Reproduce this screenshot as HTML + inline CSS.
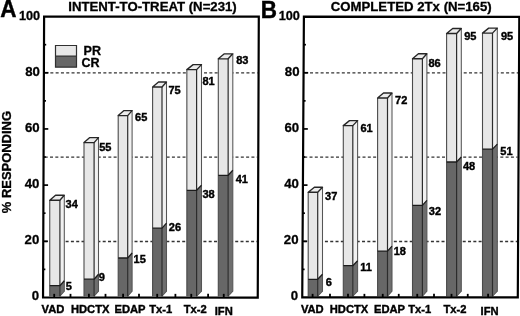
<!DOCTYPE html>
<html><head><meta charset="utf-8"><title>chart</title>
<style>html,body{margin:0;padding:0;background:#fff;overflow:hidden}svg{display:block;will-change:transform;filter:grayscale(1)}text{fill:#000}</style>
</head><body>
<svg width="520" height="316" viewBox="0 0 520 316">
<rect width="520" height="316" fill="#fff"/>
<g>
<line x1="44.41" x2="256.96" y1="241.48" y2="241.48" stroke="#333" stroke-width="1.3" stroke-dasharray="3.0,2.3"/>
<line x1="44.72" x2="257.27" y1="157.22" y2="157.22" stroke="#333" stroke-width="1.3" stroke-dasharray="3.0,2.3"/>
<line x1="45.04" x2="257.59" y1="72.97" y2="72.97" stroke="#333" stroke-width="1.3" stroke-dasharray="3.0,2.3"/>
<rect x="49.75" y="200.20" width="10.15" height="85.50" fill="#e7e7e7"/>
<rect x="49.75" y="285.70" width="10.15" height="10.55" fill="#676767"/>
<polygon points="59.90,200.20 64.30,195.20 64.30,280.70 59.90,285.70" fill="#f1f1f1"/>
<polygon points="59.90,285.70 64.30,280.70 64.30,291.25 59.90,296.25" fill="#6e6e6e"/>
<polygon points="49.75,200.20 55.55,195.20 64.30,195.20 59.90,200.20" fill="#ececec"/>
<path d="M49.75,296.25 V200.20" fill="none" stroke="#4a4a4a" stroke-width="1.1"/>
<path d="M64.30,195.20 V291.25 L59.90,296.25" fill="none" stroke="#555" stroke-width="1.05" stroke-linejoin="round"/>
<path d="M59.90,200.20 V296.25" fill="none" stroke="#2c2c2c" stroke-width="1.2"/>
<path d="M49.75,200.20 H59.90 L64.30,195.20 H55.55 Z" fill="none" stroke="#262626" stroke-width="1.35" stroke-linejoin="round"/>
<path d="M49.75,285.70 H59.90 L64.30,280.70" fill="none" stroke="#1c1c1c" stroke-width="1.3" stroke-linejoin="round"/>
<rect x="84.00" y="142.60" width="10.10" height="136.60" fill="#e7e7e7"/>
<rect x="84.00" y="279.20" width="10.10" height="17.05" fill="#676767"/>
<polygon points="94.10,142.60 98.50,137.60 98.50,274.20 94.10,279.20" fill="#f1f1f1"/>
<polygon points="94.10,279.20 98.50,274.20 98.50,291.25 94.10,296.25" fill="#6e6e6e"/>
<polygon points="84.00,142.60 89.80,137.60 98.50,137.60 94.10,142.60" fill="#ececec"/>
<path d="M84.00,296.25 V142.60" fill="none" stroke="#4a4a4a" stroke-width="1.1"/>
<path d="M98.50,137.60 V291.25 L94.10,296.25" fill="none" stroke="#555" stroke-width="1.05" stroke-linejoin="round"/>
<path d="M94.10,142.60 V296.25" fill="none" stroke="#2c2c2c" stroke-width="1.2"/>
<path d="M84.00,142.60 H94.10 L98.50,137.60 H89.80 Z" fill="none" stroke="#262626" stroke-width="1.35" stroke-linejoin="round"/>
<path d="M84.00,279.20 H94.10 L98.50,274.20" fill="none" stroke="#1c1c1c" stroke-width="1.3" stroke-linejoin="round"/>
<rect x="118.20" y="115.60" width="9.50" height="142.40" fill="#e7e7e7"/>
<rect x="118.20" y="258.00" width="9.50" height="38.25" fill="#676767"/>
<polygon points="127.70,115.60 132.10,110.60 132.10,253.00 127.70,258.00" fill="#f1f1f1"/>
<polygon points="127.70,258.00 132.10,253.00 132.10,291.25 127.70,296.25" fill="#6e6e6e"/>
<polygon points="118.20,115.60 124.00,110.60 132.10,110.60 127.70,115.60" fill="#ececec"/>
<path d="M118.20,296.25 V115.60" fill="none" stroke="#4a4a4a" stroke-width="1.1"/>
<path d="M132.10,110.60 V291.25 L127.70,296.25" fill="none" stroke="#555" stroke-width="1.05" stroke-linejoin="round"/>
<path d="M127.70,115.60 V296.25" fill="none" stroke="#2c2c2c" stroke-width="1.2"/>
<path d="M118.20,115.60 H127.70 L132.10,110.60 H124.00 Z" fill="none" stroke="#262626" stroke-width="1.35" stroke-linejoin="round"/>
<path d="M118.20,258.00 H127.70 L132.10,253.00" fill="none" stroke="#1c1c1c" stroke-width="1.3" stroke-linejoin="round"/>
<rect x="152.60" y="87.00" width="9.40" height="141.10" fill="#e7e7e7"/>
<rect x="152.60" y="228.10" width="9.40" height="68.15" fill="#676767"/>
<polygon points="162.00,87.00 166.50,82.00 166.50,223.10 162.00,228.10" fill="#f1f1f1"/>
<polygon points="162.00,228.10 166.50,223.10 166.50,291.25 162.00,296.25" fill="#6e6e6e"/>
<polygon points="152.60,87.00 158.50,82.00 166.50,82.00 162.00,87.00" fill="#ececec"/>
<path d="M152.60,296.25 V87.00" fill="none" stroke="#4a4a4a" stroke-width="1.1"/>
<path d="M166.50,82.00 V291.25 L162.00,296.25" fill="none" stroke="#555" stroke-width="1.05" stroke-linejoin="round"/>
<path d="M162.00,87.00 V296.25" fill="none" stroke="#2c2c2c" stroke-width="1.2"/>
<path d="M152.60,87.00 H162.00 L166.50,82.00 H158.50 Z" fill="none" stroke="#262626" stroke-width="1.35" stroke-linejoin="round"/>
<path d="M152.60,228.10 H162.00 L166.50,223.10" fill="none" stroke="#1c1c1c" stroke-width="1.3" stroke-linejoin="round"/>
<rect x="186.85" y="69.60" width="9.75" height="120.70" fill="#e7e7e7"/>
<rect x="186.85" y="190.30" width="9.75" height="105.95" fill="#676767"/>
<polygon points="196.60,69.60 201.50,64.60 201.50,185.30 196.60,190.30" fill="#f1f1f1"/>
<polygon points="196.60,190.30 201.50,185.30 201.50,291.25 196.60,296.25" fill="#6e6e6e"/>
<polygon points="186.85,69.60 193.15,64.60 201.50,64.60 196.60,69.60" fill="#ececec"/>
<path d="M186.85,296.25 V69.60" fill="none" stroke="#4a4a4a" stroke-width="1.1"/>
<path d="M201.50,64.60 V291.25 L196.60,296.25" fill="none" stroke="#555" stroke-width="1.05" stroke-linejoin="round"/>
<path d="M196.60,69.60 V296.25" fill="none" stroke="#2c2c2c" stroke-width="1.2"/>
<path d="M186.85,69.60 H196.60 L201.50,64.60 H193.15 Z" fill="none" stroke="#262626" stroke-width="1.35" stroke-linejoin="round"/>
<path d="M186.85,190.30 H196.60 L201.50,185.30" fill="none" stroke="#1c1c1c" stroke-width="1.3" stroke-linejoin="round"/>
<rect x="218.30" y="58.80" width="9.85" height="116.50" fill="#e7e7e7"/>
<rect x="218.30" y="175.30" width="9.85" height="120.95" fill="#676767"/>
<polygon points="228.15,58.80 232.80,53.80 232.80,170.30 228.15,175.30" fill="#f1f1f1"/>
<polygon points="228.15,175.30 232.80,170.30 232.80,291.25 228.15,296.25" fill="#6e6e6e"/>
<polygon points="218.30,58.80 224.35,53.80 232.80,53.80 228.15,58.80" fill="#ececec"/>
<path d="M218.30,296.25 V58.80" fill="none" stroke="#4a4a4a" stroke-width="1.1"/>
<path d="M232.80,53.80 V291.25 L228.15,296.25" fill="none" stroke="#555" stroke-width="1.05" stroke-linejoin="round"/>
<path d="M228.15,58.80 V296.25" fill="none" stroke="#2c2c2c" stroke-width="1.2"/>
<path d="M218.30,58.80 H228.15 L232.80,53.80 H224.35 Z" fill="none" stroke="#262626" stroke-width="1.35" stroke-linejoin="round"/>
<path d="M218.30,175.30 H228.15 L232.80,170.30" fill="none" stroke="#1c1c1c" stroke-width="1.3" stroke-linejoin="round"/>
<polygon points="44.1,16.6 258.8,16.65 257.75,297.6 43.05,297.45" fill="none" stroke="#000" stroke-width="2.2" stroke-linejoin="miter"/>
<line x1="43.15" x2="45.35" y1="269.37" y2="269.37" stroke="#000" stroke-width="1.7"/>
<line x1="43.26" x2="47.86" y1="241.28" y2="241.28" stroke="#000" stroke-width="1.7"/>
<line x1="43.36" x2="45.56" y1="213.19" y2="213.19" stroke="#000" stroke-width="1.7"/>
<line x1="43.47" x2="48.07" y1="185.11" y2="185.11" stroke="#000" stroke-width="1.7"/>
<line x1="43.57" x2="45.77" y1="157.03" y2="157.03" stroke="#000" stroke-width="1.7"/>
<line x1="43.68" x2="48.28" y1="128.94" y2="128.94" stroke="#000" stroke-width="1.7"/>
<line x1="43.78" x2="45.98" y1="100.86" y2="100.86" stroke="#000" stroke-width="1.7"/>
<line x1="43.89" x2="48.49" y1="72.77" y2="72.77" stroke="#000" stroke-width="1.7"/>
<line x1="43.99" x2="46.20" y1="44.69" y2="44.69" stroke="#000" stroke-width="1.7"/>
<line x1="54.20" x2="54.20" y1="297.45" y2="293.84999999999997" stroke="#000" stroke-width="1.8"/>
<line x1="70.50" x2="70.50" y1="297.45" y2="293.84999999999997" stroke="#000" stroke-width="1.8"/>
<line x1="88.90" x2="88.90" y1="297.45" y2="293.84999999999997" stroke="#000" stroke-width="1.8"/>
<line x1="105.50" x2="105.50" y1="297.45" y2="293.84999999999997" stroke="#000" stroke-width="1.8"/>
<line x1="123.10" x2="123.10" y1="297.45" y2="293.84999999999997" stroke="#000" stroke-width="1.8"/>
<line x1="139.00" x2="139.00" y1="297.45" y2="293.84999999999997" stroke="#000" stroke-width="1.8"/>
<line x1="157.20" x2="157.20" y1="297.45" y2="293.84999999999997" stroke="#000" stroke-width="1.8"/>
<line x1="175.40" x2="175.40" y1="297.45" y2="293.84999999999997" stroke="#000" stroke-width="1.8"/>
<line x1="191.25" x2="191.25" y1="297.45" y2="293.84999999999997" stroke="#000" stroke-width="1.8"/>
<line x1="208.10" x2="208.10" y1="297.45" y2="293.84999999999997" stroke="#000" stroke-width="1.8"/>
<line x1="223.75" x2="223.75" y1="297.45" y2="293.84999999999997" stroke="#000" stroke-width="1.8"/>
<text transform="translate(39.04,300.20) scale(1.035,1.0)" font-size="12.8" text-anchor="end" stroke="#000" stroke-width="0.28" font-family="Liberation Sans, sans-serif" font-weight="bold" >0</text>
<text transform="translate(39.25,244.28) scale(1.035,1.0)" font-size="12.8" text-anchor="end" stroke="#000" stroke-width="0.28" font-family="Liberation Sans, sans-serif" font-weight="bold" >20</text>
<text transform="translate(39.46,188.11) scale(1.035,1.0)" font-size="12.8" text-anchor="end" stroke="#000" stroke-width="0.28" font-family="Liberation Sans, sans-serif" font-weight="bold" >40</text>
<text transform="translate(39.67,131.94) scale(1.035,1.0)" font-size="12.8" text-anchor="end" stroke="#000" stroke-width="0.28" font-family="Liberation Sans, sans-serif" font-weight="bold" >60</text>
<text transform="translate(39.88,75.77) scale(1.035,1.0)" font-size="12.8" text-anchor="end" stroke="#000" stroke-width="0.28" font-family="Liberation Sans, sans-serif" font-weight="bold" >80</text>
<text transform="translate(40.09,19.60) scale(1.035,1.0)" font-size="12.3" text-anchor="end" stroke="#000" stroke-width="0.28" font-family="Liberation Sans, sans-serif" font-weight="bold" >100</text>
<line x1="303.73" x2="517.10" y1="241.48" y2="241.48" stroke="#333" stroke-width="1.3" stroke-dasharray="3.0,2.3"/>
<line x1="304.22" x2="517.55" y1="157.22" y2="157.22" stroke="#333" stroke-width="1.3" stroke-dasharray="3.0,2.3"/>
<line x1="304.72" x2="518.00" y1="72.97" y2="72.97" stroke="#333" stroke-width="1.3" stroke-dasharray="3.0,2.3"/>
<rect x="308.20" y="192.25" width="9.50" height="87.05" fill="#e7e7e7"/>
<rect x="308.20" y="279.30" width="9.50" height="16.95" fill="#676767"/>
<polygon points="317.70,192.25 322.50,187.25 322.50,274.30 317.70,279.30" fill="#f1f1f1"/>
<polygon points="317.70,279.30 322.50,274.30 322.50,291.25 317.70,296.25" fill="#6e6e6e"/>
<polygon points="308.20,192.25 314.40,187.25 322.50,187.25 317.70,192.25" fill="#ececec"/>
<path d="M308.20,296.25 V192.25" fill="none" stroke="#4a4a4a" stroke-width="1.1"/>
<path d="M322.50,187.25 V291.25 L317.70,296.25" fill="none" stroke="#555" stroke-width="1.05" stroke-linejoin="round"/>
<path d="M317.70,192.25 V296.25" fill="none" stroke="#2c2c2c" stroke-width="1.2"/>
<path d="M308.20,192.25 H317.70 L322.50,187.25 H314.40 Z" fill="none" stroke="#262626" stroke-width="1.35" stroke-linejoin="round"/>
<path d="M308.20,279.30 H317.70 L322.50,274.30" fill="none" stroke="#1c1c1c" stroke-width="1.3" stroke-linejoin="round"/>
<rect x="343.30" y="125.60" width="9.50" height="140.10" fill="#e7e7e7"/>
<rect x="343.30" y="265.70" width="9.50" height="30.55" fill="#676767"/>
<polygon points="352.80,125.60 357.60,120.60 357.60,260.70 352.80,265.70" fill="#f1f1f1"/>
<polygon points="352.80,265.70 357.60,260.70 357.60,291.25 352.80,296.25" fill="#6e6e6e"/>
<polygon points="343.30,125.60 349.50,120.60 357.60,120.60 352.80,125.60" fill="#ececec"/>
<path d="M343.30,296.25 V125.60" fill="none" stroke="#4a4a4a" stroke-width="1.1"/>
<path d="M357.60,120.60 V291.25 L352.80,296.25" fill="none" stroke="#555" stroke-width="1.05" stroke-linejoin="round"/>
<path d="M352.80,125.60 V296.25" fill="none" stroke="#2c2c2c" stroke-width="1.2"/>
<path d="M343.30,125.60 H352.80 L357.60,120.60 H349.50 Z" fill="none" stroke="#262626" stroke-width="1.35" stroke-linejoin="round"/>
<path d="M343.30,265.70 H352.80 L357.60,260.70" fill="none" stroke="#1c1c1c" stroke-width="1.3" stroke-linejoin="round"/>
<rect x="377.60" y="98.00" width="9.90" height="153.10" fill="#e7e7e7"/>
<rect x="377.60" y="251.10" width="9.90" height="45.15" fill="#676767"/>
<polygon points="387.50,98.00 392.00,93.00 392.00,246.10 387.50,251.10" fill="#f1f1f1"/>
<polygon points="387.50,251.10 392.00,246.10 392.00,291.25 387.50,296.25" fill="#6e6e6e"/>
<polygon points="377.60,98.00 383.50,93.00 392.00,93.00 387.50,98.00" fill="#ececec"/>
<path d="M377.60,296.25 V98.00" fill="none" stroke="#4a4a4a" stroke-width="1.1"/>
<path d="M392.00,93.00 V291.25 L387.50,296.25" fill="none" stroke="#555" stroke-width="1.05" stroke-linejoin="round"/>
<path d="M387.50,98.00 V296.25" fill="none" stroke="#2c2c2c" stroke-width="1.2"/>
<path d="M377.60,98.00 H387.50 L392.00,93.00 H383.50 Z" fill="none" stroke="#262626" stroke-width="1.35" stroke-linejoin="round"/>
<path d="M377.60,251.10 H387.50 L392.00,246.10" fill="none" stroke="#1c1c1c" stroke-width="1.3" stroke-linejoin="round"/>
<rect x="412.50" y="58.75" width="9.90" height="146.65" fill="#e7e7e7"/>
<rect x="412.50" y="205.40" width="9.90" height="90.85" fill="#676767"/>
<polygon points="422.40,58.75 426.90,53.75 426.90,200.40 422.40,205.40" fill="#f1f1f1"/>
<polygon points="422.40,205.40 426.90,200.40 426.90,291.25 422.40,296.25" fill="#6e6e6e"/>
<polygon points="412.50,58.75 418.40,53.75 426.90,53.75 422.40,58.75" fill="#ececec"/>
<path d="M412.50,296.25 V58.75" fill="none" stroke="#4a4a4a" stroke-width="1.1"/>
<path d="M426.90,53.75 V291.25 L422.40,296.25" fill="none" stroke="#555" stroke-width="1.05" stroke-linejoin="round"/>
<path d="M422.40,58.75 V296.25" fill="none" stroke="#2c2c2c" stroke-width="1.2"/>
<path d="M412.50,58.75 H422.40 L426.90,53.75 H418.40 Z" fill="none" stroke="#262626" stroke-width="1.35" stroke-linejoin="round"/>
<path d="M412.50,205.40 H422.40 L426.90,200.40" fill="none" stroke="#1c1c1c" stroke-width="1.3" stroke-linejoin="round"/>
<rect x="446.60" y="33.50" width="10.00" height="128.50" fill="#e7e7e7"/>
<rect x="446.60" y="162.00" width="10.00" height="134.25" fill="#676767"/>
<polygon points="456.60,33.50 461.30,28.50 461.30,157.00 456.60,162.00" fill="#f1f1f1"/>
<polygon points="456.60,162.00 461.30,157.00 461.30,291.25 456.60,296.25" fill="#6e6e6e"/>
<polygon points="446.60,33.50 452.70,28.50 461.30,28.50 456.60,33.50" fill="#ececec"/>
<path d="M446.60,296.25 V33.50" fill="none" stroke="#4a4a4a" stroke-width="1.1"/>
<path d="M461.30,28.50 V291.25 L456.60,296.25" fill="none" stroke="#555" stroke-width="1.05" stroke-linejoin="round"/>
<path d="M456.60,33.50 V296.25" fill="none" stroke="#2c2c2c" stroke-width="1.2"/>
<path d="M446.60,33.50 H456.60 L461.30,28.50 H452.70 Z" fill="none" stroke="#262626" stroke-width="1.35" stroke-linejoin="round"/>
<path d="M446.60,162.00 H456.60 L461.30,157.00" fill="none" stroke="#1c1c1c" stroke-width="1.3" stroke-linejoin="round"/>
<rect x="482.50" y="33.10" width="10.00" height="116.00" fill="#e7e7e7"/>
<rect x="482.50" y="149.10" width="10.00" height="147.15" fill="#676767"/>
<polygon points="492.50,33.10 497.30,28.10 497.30,144.10 492.50,149.10" fill="#f1f1f1"/>
<polygon points="492.50,149.10 497.30,144.10 497.30,291.25 492.50,296.25" fill="#6e6e6e"/>
<polygon points="482.50,33.10 488.70,28.10 497.30,28.10 492.50,33.10" fill="#ececec"/>
<path d="M482.50,296.25 V33.10" fill="none" stroke="#4a4a4a" stroke-width="1.1"/>
<path d="M497.30,28.10 V291.25 L492.50,296.25" fill="none" stroke="#555" stroke-width="1.05" stroke-linejoin="round"/>
<path d="M492.50,33.10 V296.25" fill="none" stroke="#2c2c2c" stroke-width="1.2"/>
<path d="M482.50,33.10 H492.50 L497.30,28.10 H488.70 Z" fill="none" stroke="#262626" stroke-width="1.35" stroke-linejoin="round"/>
<path d="M482.50,149.10 H492.50 L497.30,144.10" fill="none" stroke="#1c1c1c" stroke-width="1.3" stroke-linejoin="round"/>
<polygon points="303.9,16.65 519.3,16.85 517.8,297.4 302.25,297.3" fill="none" stroke="#000" stroke-width="2.2" stroke-linejoin="miter"/>
<line x1="302.41" x2="304.61" y1="269.37" y2="269.37" stroke="#000" stroke-width="1.7"/>
<line x1="302.58" x2="307.18" y1="241.28" y2="241.28" stroke="#000" stroke-width="1.7"/>
<line x1="302.74" x2="304.94" y1="213.19" y2="213.19" stroke="#000" stroke-width="1.7"/>
<line x1="302.91" x2="307.51" y1="185.11" y2="185.11" stroke="#000" stroke-width="1.7"/>
<line x1="303.07" x2="305.27" y1="157.03" y2="157.03" stroke="#000" stroke-width="1.7"/>
<line x1="303.24" x2="307.84" y1="128.94" y2="128.94" stroke="#000" stroke-width="1.7"/>
<line x1="303.40" x2="305.60" y1="100.86" y2="100.86" stroke="#000" stroke-width="1.7"/>
<line x1="303.57" x2="308.17" y1="72.77" y2="72.77" stroke="#000" stroke-width="1.7"/>
<line x1="303.74" x2="305.94" y1="44.69" y2="44.69" stroke="#000" stroke-width="1.7"/>
<line x1="312.60" x2="312.60" y1="297.45" y2="293.84999999999997" stroke="#000" stroke-width="1.8"/>
<line x1="330.00" x2="330.00" y1="297.45" y2="293.84999999999997" stroke="#000" stroke-width="1.8"/>
<line x1="348.00" x2="348.00" y1="297.45" y2="293.84999999999997" stroke="#000" stroke-width="1.8"/>
<line x1="364.40" x2="364.40" y1="297.45" y2="293.84999999999997" stroke="#000" stroke-width="1.8"/>
<line x1="382.75" x2="382.75" y1="297.45" y2="293.84999999999997" stroke="#000" stroke-width="1.8"/>
<line x1="398.75" x2="398.75" y1="297.45" y2="293.84999999999997" stroke="#000" stroke-width="1.8"/>
<line x1="417.25" x2="417.25" y1="297.45" y2="293.84999999999997" stroke="#000" stroke-width="1.8"/>
<line x1="434.00" x2="434.00" y1="297.45" y2="293.84999999999997" stroke="#000" stroke-width="1.8"/>
<line x1="451.50" x2="451.50" y1="297.45" y2="293.84999999999997" stroke="#000" stroke-width="1.8"/>
<line x1="467.75" x2="467.75" y1="297.45" y2="293.84999999999997" stroke="#000" stroke-width="1.8"/>
<line x1="488.10" x2="488.10" y1="297.45" y2="293.84999999999997" stroke="#000" stroke-width="1.8"/>
<text transform="translate(298.23,300.20) scale(1.035,1.0)" font-size="12.8" text-anchor="end" stroke="#000" stroke-width="0.28" font-family="Liberation Sans, sans-serif" font-weight="bold" >0</text>
<text transform="translate(298.56,244.28) scale(1.035,1.0)" font-size="12.8" text-anchor="end" stroke="#000" stroke-width="0.28" font-family="Liberation Sans, sans-serif" font-weight="bold" >20</text>
<text transform="translate(298.89,188.11) scale(1.035,1.0)" font-size="12.8" text-anchor="end" stroke="#000" stroke-width="0.28" font-family="Liberation Sans, sans-serif" font-weight="bold" >40</text>
<text transform="translate(299.22,131.94) scale(1.035,1.0)" font-size="12.8" text-anchor="end" stroke="#000" stroke-width="0.28" font-family="Liberation Sans, sans-serif" font-weight="bold" >60</text>
<text transform="translate(299.55,75.77) scale(1.035,1.0)" font-size="12.8" text-anchor="end" stroke="#000" stroke-width="0.28" font-family="Liberation Sans, sans-serif" font-weight="bold" >80</text>
<text transform="translate(299.88,19.60) scale(1.035,1.0)" font-size="12.3" text-anchor="end" stroke="#000" stroke-width="0.28" font-family="Liberation Sans, sans-serif" font-weight="bold" >100</text>
<text transform="translate(65.55,208.30)" font-size="11" text-anchor="start" stroke="#000" stroke-width="0.4" font-family="Liberation Sans, sans-serif" font-weight="bold" >34</text>
<text transform="translate(65.65,290.30)" font-size="11" text-anchor="start" stroke="#000" stroke-width="0.4" font-family="Liberation Sans, sans-serif" font-weight="bold" >5</text>
<text transform="translate(99.20,151.30)" font-size="11" text-anchor="start" stroke="#000" stroke-width="0.4" font-family="Liberation Sans, sans-serif" font-weight="bold" >55</text>
<text transform="translate(98.65,280.70)" font-size="11" text-anchor="start" stroke="#000" stroke-width="0.4" font-family="Liberation Sans, sans-serif" font-weight="bold" >9</text>
<text transform="translate(135.05,121.30)" font-size="11" text-anchor="start" stroke="#000" stroke-width="0.4" font-family="Liberation Sans, sans-serif" font-weight="bold" >65</text>
<text transform="translate(133.55,262.50)" font-size="11" text-anchor="start" stroke="#000" stroke-width="0.4" font-family="Liberation Sans, sans-serif" font-weight="bold" >15</text>
<text transform="translate(168.45,94.30)" font-size="11" text-anchor="start" stroke="#000" stroke-width="0.4" font-family="Liberation Sans, sans-serif" font-weight="bold" >75</text>
<text transform="translate(168.85,230.60)" font-size="11" text-anchor="start" stroke="#000" stroke-width="0.4" font-family="Liberation Sans, sans-serif" font-weight="bold" >26</text>
<text transform="translate(202.45,85.30)" font-size="11" text-anchor="start" stroke="#000" stroke-width="0.4" font-family="Liberation Sans, sans-serif" font-weight="bold" >81</text>
<text transform="translate(202.45,197.75)" font-size="11" text-anchor="start" stroke="#000" stroke-width="0.4" font-family="Liberation Sans, sans-serif" font-weight="bold" >38</text>
<text transform="translate(236.15,63.90)" font-size="11" text-anchor="start" stroke="#000" stroke-width="0.4" font-family="Liberation Sans, sans-serif" font-weight="bold" >83</text>
<text transform="translate(235.75,183.30)" font-size="11" text-anchor="start" stroke="#000" stroke-width="0.4" font-family="Liberation Sans, sans-serif" font-weight="bold" >41</text>
<text transform="translate(325.05,199.50)" font-size="11" text-anchor="start" stroke="#000" stroke-width="0.4" font-family="Liberation Sans, sans-serif" font-weight="bold" >37</text>
<text transform="translate(325.65,286.00)" font-size="11" text-anchor="start" stroke="#000" stroke-width="0.4" font-family="Liberation Sans, sans-serif" font-weight="bold" >6</text>
<text transform="translate(360.45,132.25)" font-size="11" text-anchor="start" stroke="#000" stroke-width="0.4" font-family="Liberation Sans, sans-serif" font-weight="bold" >61</text>
<text transform="translate(360.20,271.25)" font-size="11" text-anchor="start" stroke="#000" stroke-width="0.4" font-family="Liberation Sans, sans-serif" font-weight="bold" >11</text>
<text transform="translate(395.05,104.25)" font-size="11" text-anchor="start" stroke="#000" stroke-width="0.4" font-family="Liberation Sans, sans-serif" font-weight="bold" >72</text>
<text transform="translate(393.70,254.90)" font-size="11" text-anchor="start" stroke="#000" stroke-width="0.4" font-family="Liberation Sans, sans-serif" font-weight="bold" >18</text>
<text transform="translate(428.45,66.90)" font-size="11" text-anchor="start" stroke="#000" stroke-width="0.4" font-family="Liberation Sans, sans-serif" font-weight="bold" >86</text>
<text transform="translate(428.85,215.00)" font-size="11" text-anchor="start" stroke="#000" stroke-width="0.4" font-family="Liberation Sans, sans-serif" font-weight="bold" >32</text>
<text transform="translate(464.20,40.25)" font-size="11" text-anchor="start" stroke="#000" stroke-width="0.4" font-family="Liberation Sans, sans-serif" font-weight="bold" >95</text>
<text transform="translate(462.95,170.40)" font-size="11" text-anchor="start" stroke="#000" stroke-width="0.4" font-family="Liberation Sans, sans-serif" font-weight="bold" >48</text>
<text transform="translate(500.95,40.00)" font-size="11" text-anchor="start" stroke="#000" stroke-width="0.4" font-family="Liberation Sans, sans-serif" font-weight="bold" >95</text>
<text transform="translate(500.35,154.75)" font-size="11" text-anchor="start" stroke="#000" stroke-width="0.4" font-family="Liberation Sans, sans-serif" font-weight="bold" >51</text>
<text transform="translate(52.95,312.80)" font-size="11.2" text-anchor="middle" stroke="#000" stroke-width="0.4" font-family="Liberation Sans, sans-serif" font-weight="bold" >VAD</text>
<text transform="translate(90.20,312.80)" font-size="11.2" text-anchor="middle" stroke="#000" stroke-width="0.4" font-family="Liberation Sans, sans-serif" font-weight="bold" >HDCTX</text>
<text transform="translate(130.00,312.80)" font-size="11.2" text-anchor="middle" stroke="#000" stroke-width="0.4" font-family="Liberation Sans, sans-serif" font-weight="bold" >EDAP</text>
<text transform="translate(160.75,312.80)" font-size="11.2" text-anchor="middle" stroke="#000" stroke-width="0.4" font-family="Liberation Sans, sans-serif" font-weight="bold" >Tx-1</text>
<text transform="translate(195.20,312.80)" font-size="11.2" text-anchor="middle" stroke="#000" stroke-width="0.4" font-family="Liberation Sans, sans-serif" font-weight="bold" >Tx-2</text>
<text transform="translate(223.75,314.80)" font-size="11.2" text-anchor="middle" stroke="#000" stroke-width="0.4" font-family="Liberation Sans, sans-serif" font-weight="bold" >IFN</text>
<text transform="translate(312.30,312.80)" font-size="11.2" text-anchor="middle" stroke="#000" stroke-width="0.4" font-family="Liberation Sans, sans-serif" font-weight="bold" >VAD</text>
<text transform="translate(349.00,312.80)" font-size="11.2" text-anchor="middle" stroke="#000" stroke-width="0.4" font-family="Liberation Sans, sans-serif" font-weight="bold" >HDCTX</text>
<text transform="translate(389.55,312.80)" font-size="11.2" text-anchor="middle" stroke="#000" stroke-width="0.4" font-family="Liberation Sans, sans-serif" font-weight="bold" >EDAP</text>
<text transform="translate(419.70,312.80)" font-size="11.2" text-anchor="middle" stroke="#000" stroke-width="0.4" font-family="Liberation Sans, sans-serif" font-weight="bold" >Tx-1</text>
<text transform="translate(454.90,312.80)" font-size="11.2" text-anchor="middle" stroke="#000" stroke-width="0.4" font-family="Liberation Sans, sans-serif" font-weight="bold" >Tx-2</text>
<text transform="translate(489.55,315.20)" font-size="11.2" text-anchor="middle" stroke="#000" stroke-width="0.4" font-family="Liberation Sans, sans-serif" font-weight="bold" >IFN</text>
<text transform="translate(152.50,10.80) scale(1.065,1.0)" font-size="12.4" text-anchor="middle" stroke="#000" stroke-width="0.3" font-family="Liberation Sans, sans-serif" font-weight="bold" >INTENT-TO-TREAT (N=231)</text>
<text transform="translate(411.20,10.50) scale(1.065,1.0)" font-size="12.4" text-anchor="middle" stroke="#000" stroke-width="0.3" font-family="Liberation Sans, sans-serif" font-weight="bold" >COMPLETED 2Tx (N=165)</text>
<text transform="translate(0.20,16.80) scale(1.0,1.035)" font-size="22.5" text-anchor="start" stroke="#000" stroke-width="0.4" font-family="Liberation Sans, sans-serif" font-weight="bold" >A</text>
<text transform="translate(260.70,17.50) scale(1.0,1.035)" font-size="22.5" text-anchor="start" stroke="#000" stroke-width="0.4" font-family="Liberation Sans, sans-serif" font-weight="bold" >B</text>
<text transform="translate(11.00,162.10) rotate(-90) scale(1.0,1.05)" font-size="12.95" text-anchor="middle" stroke="#000" stroke-width="0.3" font-family="Liberation Sans, sans-serif" font-weight="bold" >&#37; RESPONDING</text>
<rect x="55.5" y="45.5" width="21" height="21.7" fill="#676767"/>
<rect x="55.5" y="45.5" width="21" height="10.6" fill="#e7e7e7"/>
<path d="M55.5,45.5 H76.5 V67.2 H55.5 Z M55.5,56.1 H76.5" fill="none" stroke="#303030" stroke-width="1.2"/>
<text transform="translate(83.60,54.90) scale(1.03,1.0)" font-size="12.2" text-anchor="start" stroke="#000" stroke-width="0.3" font-family="Liberation Sans, sans-serif" font-weight="bold" >PR</text>
<text transform="translate(81.40,66.50) scale(1.03,1.0)" font-size="12.2" text-anchor="start" stroke="#000" stroke-width="0.3" font-family="Liberation Sans, sans-serif" font-weight="bold" >CR</text>
</g>
</svg>
</body></html>
